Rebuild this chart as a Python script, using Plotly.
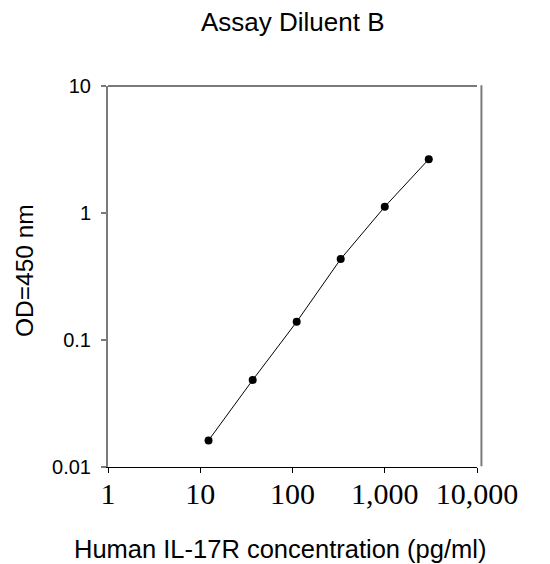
import plotly.graph_objects as go

# Data
concentration = [12.3, 37, 111, 333, 1000, 3000]   # pg/ml
od450 = [0.0162, 0.0484, 0.139, 0.434, 1.12, 2.65]

x_tickvals = [1, 10, 100, 1000, 10000]
x_ticktext = ["1", "10", "100", "1,000", "10,000"]
y_tickvals = [0.01, 0.1, 1, 10]
y_ticktext = ["0.01", "0.1", "1", "10"]

title_text = "Assay Diluent B"
x_title = "Human IL-17R concentration (pg/ml)"
y_title = "OD=450 nm"

# page body adds an 8px margin, so the figure is 8px smaller than the window
W, H = 542, 556
ML, MR, MT, MB = 100, 73, 78, 97
PW, PH = W - ML - MR, H - MT - MB

SANS = "Liberation Sans, Arial, sans-serif"
SERIF = "Liberation Serif, Times New Roman, serif"

fig = go.Figure()
fig.add_trace(go.Scatter(
    x=concentration, y=od450, mode="lines+markers",
    line=dict(color="black", width=1),
    marker=dict(color="black", size=8),
    showlegend=False, cliponaxis=False,
))

fig.update_layout(
    width=W, height=H,
    margin=dict(l=ML, r=MR, t=MT, b=MB),
    paper_bgcolor="white", plot_bgcolor="white",
    xaxis=dict(
        type="log", range=[0, 4],
        tickvals=x_tickvals, ticktext=x_ticktext,
        ticks="outside", ticklen=5, tickcolor="black", tickwidth=1,
        showline=True, linecolor="black", linewidth=1.2,
        showgrid=False, zeroline=False,
        ticklabelstandoff=-5,
        tickfont=dict(family=SERIF, size=30, color="black"),
    ),
    yaxis=dict(
        type="log", range=[-2, 1],
        tickvals=y_tickvals, ticktext=y_ticktext,
        ticks="outside", ticklen=5, tickcolor="#7a7a7a", tickwidth=1.5,
        showline=True, linecolor="#7a7a7a", linewidth=2,
        showgrid=False, zeroline=False,
        ticklabelstandoff=6,
        tickfont=dict(family=SANS, size=20, color="black"),
    ),
    font=dict(family=SANS, color="black"),
    shapes=[
        dict(type="line", xref="x domain", yref="y domain", x0=0, x1=1, y0=1, y1=1,
             line=dict(color="#7a7a7a", width=2)),
        dict(type="line", xref="x domain", yref="y domain", x0=1.012, x1=1.012, y0=0.002, y1=1.002,
             line=dict(color="#7a7a7a", width=2)),
    ],
    annotations=[
        dict(text=title_text, xref="paper", yref="paper",
             x=(284.5 - ML) / PW, y=1 + (MT - 14.5) / PH,
             xanchor="center", yanchor="middle", showarrow=False,
             font=dict(size=26, family=SANS, color="black")),
        dict(text=x_title, xref="paper", yref="paper",
             x=(272 - ML) / PW, y=-(541 - (H - MB)) / PH,
             xanchor="center", yanchor="middle", showarrow=False,
             font=dict(size=25.5, family=SANS, color="black")),
        dict(text=y_title, xref="paper", yref="paper", textangle=-90,
             x=(16 - ML) / PW, y=((H - MB) - 263) / PH,
             xanchor="center", yanchor="middle", showarrow=False,
             font=dict(size=24.5, family=SANS, color="black")),
    ],
)

fig.write_html("out.html")
